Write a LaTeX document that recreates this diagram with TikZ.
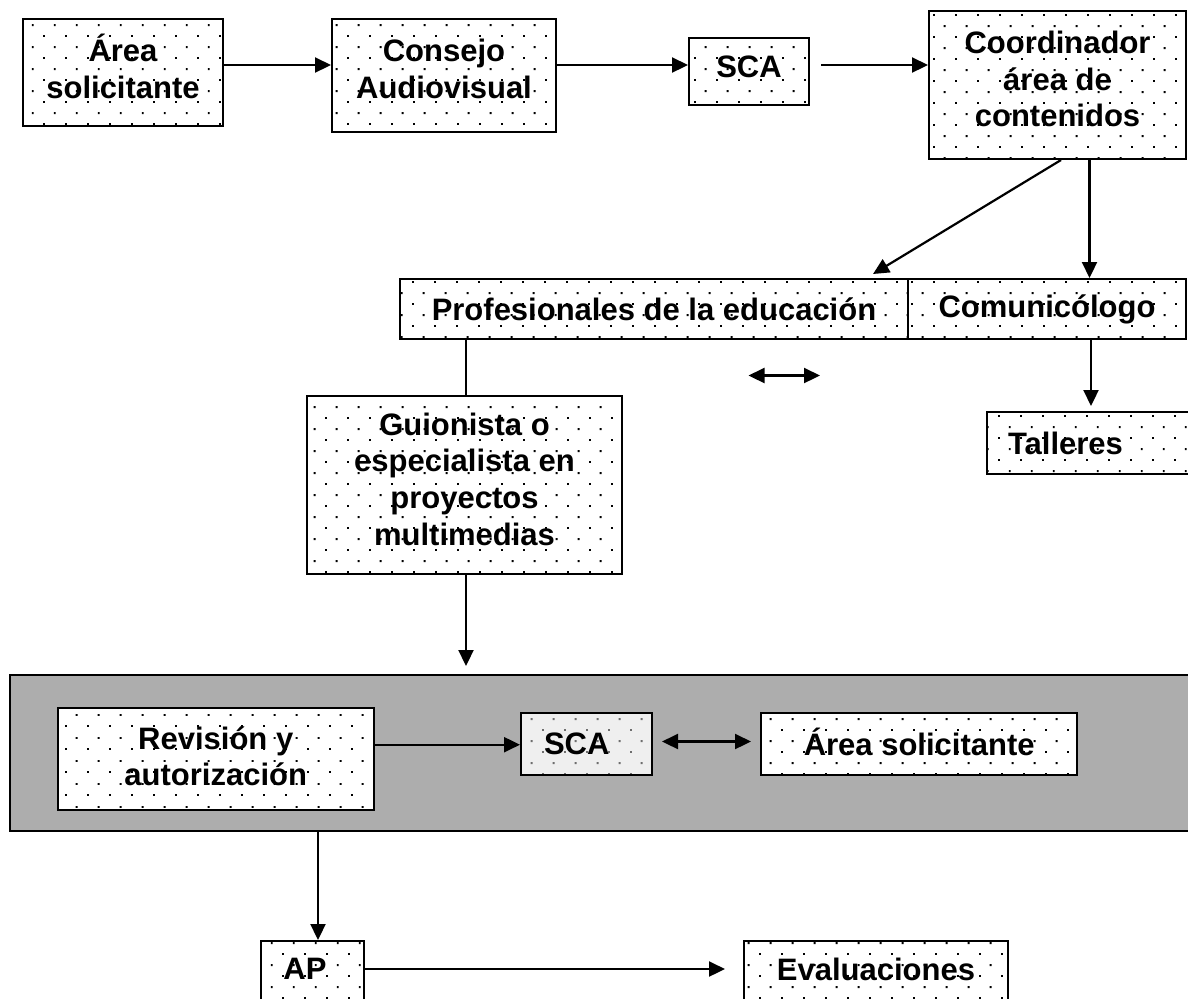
\documentclass[tikz,border=0pt]{standalone}
\usepackage{fontspec}
\setmainfont{Liberation Sans}
\usetikzlibrary{arrows.meta,patterns}
\pgfdeclarepatternformonly{mydots}{\pgfpointorigin}{\pgfpoint{10.85pt}{11.2pt}}{\pgfpoint{10.85pt}{11.2pt}}{%
  \pgfpathrectangle{\pgfpoint{0pt}{0pt}}{\pgfpoint{1pt}{1pt}}%
  \pgfpathrectangle{\pgfpoint{5.425pt}{5.6pt}}{\pgfpoint{1pt}{1pt}}%
  \pgfusepath{fill}}
\definecolor{panelgray}{RGB}{173,173,173}
\definecolor{lightbox}{RGB}{239,239,239}
\definecolor{dotgray}{RGB}{110,110,110}
\newcommand\lowpad[1]{\rule[-#1]{0pt}{0pt}}
\begin{document}
\begin{tikzpicture}[x=0.5pt,y=-0.5pt,
  lbl/.style={inner sep=0pt, align=center, font=\fontsize{15.5}{18.3}\selectfont\bfseries},
  box/.style={lbl, draw=black, line width=1pt, preaction={fill=white}, pattern=mydots, pattern color=black},
  panel/.style={draw=black, line width=1pt, fill=panelgray, inner sep=0pt},
  arr/.style={line width=1.1pt, -{Triangle[length=8pt,width=7.5pt]}},
  darr/.style={line width=1.1pt, {Triangle[length=8pt,width=7.5pt]}-{Triangle[length=8pt,width=7.5pt]}},
  ln/.style={line width=1.1pt}]
\useasboundingbox (0,0) rectangle (1188,998);

% top row
\node[box, minimum width=100pt, minimum height=53.5pt] (a1) at (123,72.5) {Área\\solicitante\lowpad{6pt}};
\node[box, minimum width=112pt, minimum height=56.5pt] (ca) at (444,75.5) {Consejo\\Audiovisual\lowpad{7pt}};
\node[box, minimum width=60pt, minimum height=33.5pt] (s1) at (749,71.5) {SCA\lowpad{5pt}};
\node[box, minimum width=128.5pt, minimum height=74pt] (co) at (1057.5,85) {Coordinador\\área de\\contenidos\lowpad{6pt}};

% second row
\node[box, minimum width=254pt, minimum height=30pt] (pr) at (654,309) {Profesionales de la educación};
\node[box, minimum width=139pt, minimum height=30pt] (cm) at (1047,309) {Comunicólogo};
\node[box, minimum width=104pt, minimum height=31pt, text width=83pt, inner xsep=10.5pt, align=left] (ta) at (1091,443) {Talleres};
\node[box, minimum width=157.5pt, minimum height=89pt] (gu) at (464.5,485) {Guionista o\\especialista en\\proyectos\\multimedias\lowpad{6pt}};

% gray panel
\node[panel, minimum width=591pt, minimum height=78pt] (gr) at (601.3,753) {};
\node[box, minimum width=157.75pt, minimum height=51pt] (rv) at (215.75,759) {Revisión y\\autorización\lowpad{3pt}};
\node[box, preaction={fill=lightbox}, pattern color=dotgray, minimum width=65.3pt, minimum height=30.8pt, text width=42.3pt, inner xsep=11.5pt, align=left] (s2) at (586.3,743.8) {SCA};
\node[box, minimum width=157.8pt, minimum height=31pt] (a2) at (919.2,744) {Área solicitante\lowpad{2pt}};

% bottom row
\node[box, minimum width=51.5pt, minimum height=32pt] (ap) at (312.5,973) {};
\node[lbl] (apT) at (305,969) {AP};
\node[box, minimum width=132pt, minimum height=32pt] (ev) at (876,973) {};
\node[lbl] (evT) at (876,969) {Evaluaciones};

% connectors
\draw[arr] (a1.east |- 0,65) -- (ca.west |- 0,65);
\draw[arr] (ca.east |- 0,65) -- (s1.west |- 0,65);
\draw[arr, shorten <=5.5pt] (s1.east |- 0,65) -- (co.west |- 0,65);
\coordinate (dgE) at (873,274);
\draw[arr] (co.south -| 1061,0) -- (dgE);
\draw[arr] (co.south -| 1089.5,0) -- (cm.north -| 1089.5,0);
\draw[ln] (pr.south -| 466,0) -- (gu.north -| 466,0);
\coordinate (mL) at (748.5,375.5);
\coordinate (mR) at (820,375.5);
\draw[darr] (mL) -- (mR);
\draw[arr, shorten >=2.5pt] (cm.south -| 1091,0) -- (ta.north -| 1091,0);
\draw[arr, shorten >=4pt] (gu.south -| 466,0) -- (gr.north -| 466,0);
\draw[arr] (rv.east |- 0,744.7) -- (s2.west |- 0,744.7);
\draw[darr, shorten <=4.7pt, shorten >=4.7pt] (s2.east |- 0,741.5) -- (a2.west |- 0,741.5);
\draw[arr] (gr.south -| 318,0) -- (ap.north -| 318,0);
\draw[arr, shorten >=9pt] (apT -| ap.east) -- (apT -| ev.west);
\end{tikzpicture}
\end{document}
